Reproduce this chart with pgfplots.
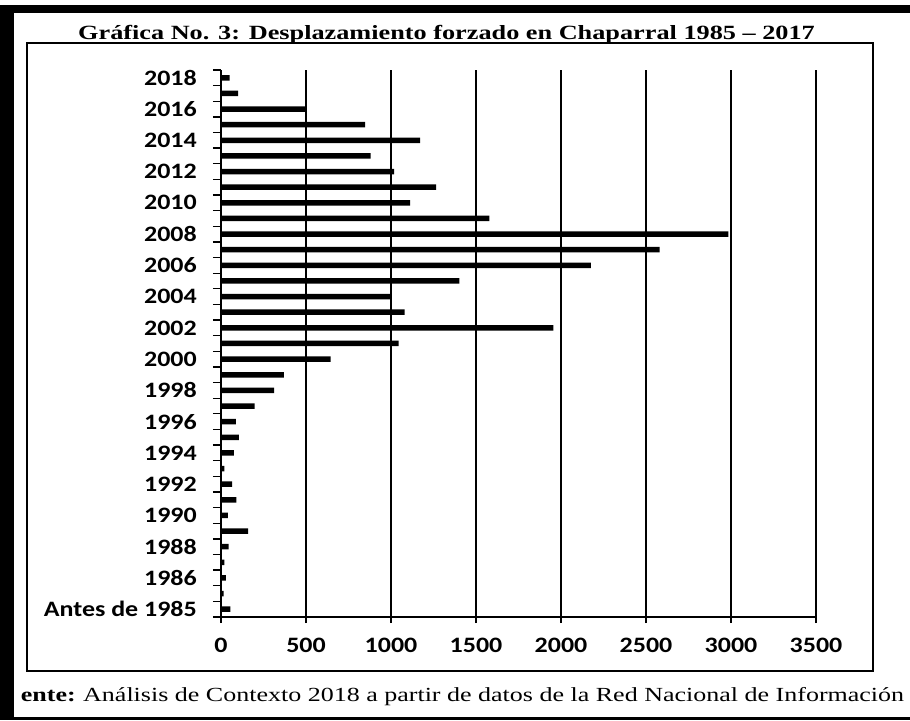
\documentclass[border=0pt]{standalone}
\usepackage{fontspec}
\setmainfont{Liberation Serif}
\newfontfamily\wideserif[FakeStretch=1.3]{Liberation Serif}
\newfontfamily\tickfont[FakeStretch=1.18]{Carlito}
\usepackage{pgfplots}
\usepackage{pgfplotstable}
\pgfplotsset{compat=1.18}

\pgfplotstableread{
idx val
0 55
1 15
2 28
3 20
4 45
5 160
6 40
7 90
8 65
9 20
10 75
11 105
12 88
13 198
14 312
15 370
16 645
17 1045
18 1955
19 1080
20 1000
21 1402
22 2175
23 2580
24 2985
25 1578
26 1112
27 1265
28 1018
29 880
30 1172
31 848
32 500
33 100
34 50
}\datatable

\begin{document}
\begin{tikzpicture}[x=1pt,y=1pt]
\useasboundingbox (0,0) rectangle (910,720);
\fill[white] (0,0) rectangle (910,720);
\draw[line width=1.5pt] (27,49) rectangle (873,677);
\node[anchor=base, inner sep=0pt, font=\wideserif\bfseries\fontsize{20.2}{22}\selectfont] at (446.5,680) {Gráfica No. 3: Desplazamiento forzado en Chaparral 1985 – 2017};
\begin{axis}[
  at={(221pt,103pt)}, anchor=south west,
  scale only axis, width=595pt, height=547pt,
  xbar, bar width=5.5pt,
  xmin=0, xmax=3500, ymin=-0.5, ymax=34.5,
  axis x line*=bottom, axis y line*=left,
  axis line style={-, line width=1.5pt, black},
  xtick={0,500,...,3500},
  xticklabels={0,500,1000,1500,2000,2500,3000,3500},
  xmajorgrids, grid style={black, line width=1.6pt},
  ytick={0,2,...,34},
  yticklabels={Antes de 1985,1986,1988,1990,1992,1994,1996,1998,2000,2002,2004,2006,2008,2010,2012,2014,2016,2018},
  minor ytick={-0.5,0.5,...,34.5},
  tick align=outside, major tick length=6pt, minor tick length=8pt,
  tick style={black, line width=1.3pt},
  every major y tick/.append style={draw=none},
  ticklabel style={font=\tickfont\bfseries\fontsize{22}{24}\selectfont},
  yticklabel style={inner sep=0pt, xshift=-18pt},
  xticklabel style={inner sep=0pt, yshift=-15pt},
]
\addplot[fill=black, draw=none] table[x=val, y=idx] {\datatable};
\end{axis}
\node[anchor=base east, inner sep=0pt, font=\wideserif\bfseries\fontsize{20}{24}\selectfont] at (76,18) {ente:};
\node[anchor=base west, inner sep=0pt, font=\wideserif\fontsize{20}{24}\selectfont] at (83,18) {Análisis de Contexto 2018 a partir de datos de la Red Nacional de Información};
\fill[black] (0,0) rectangle (14,715);
\fill[black] (0,707) rectangle (910,715);
\fill[black] (0,0) rectangle (910,3.5);
\end{tikzpicture}
\end{document}
